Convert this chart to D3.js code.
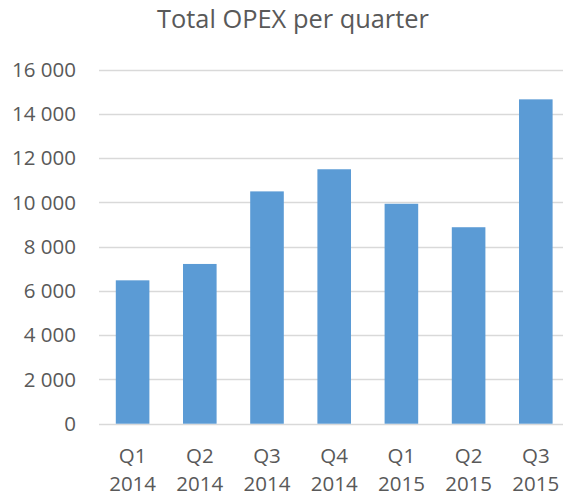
<!DOCTYPE html>
<html>
<head>
<meta charset="utf-8">
<script src="https://cdn.jsdelivr.net/npm/d3@7"></script>
<style>
  html, body { margin: 0; padding: 0; background: #fff; }
  svg { display: block; }
  text { font-family: "Open Sans", sans-serif; fill: #595959; }
</style>
</head>
<body>
<svg id="chart" width="563" height="492"></svg>
<script>
const quarters = ["Q1", "Q2", "Q3", "Q4", "Q1", "Q2", "Q3"];
const years = ["2014", "2014", "2014", "2014", "2015", "2015", "2015"];
const categories = quarters.map((q, i) => q + " " + years[i]);
const values = [6480, 7220, 10500, 11500, 9940, 8880, 14660];
const yTicks = [0, 2000, 4000, 6000, 8000, 10000, 12000, 14000, 16000];
const chartTitle = "Total OPEX per quarter";

const svg = d3.select("#chart");
const plotLeft = 99, plotRight = 569.4, plotTop = 69.7, plotBottom = 423.7;

const x = d3.scaleBand().domain(categories).range([plotLeft, plotRight])
  .paddingInner(0.5).paddingOuter(0.25);
const y = d3.scaleLinear().domain([0, 16000]).range([plotBottom, plotTop]);

const locale = d3.formatLocale({ decimal: ",", thousands: "\u00a0", grouping: [3], currency: ["", ""] });
const fmt = locale.format(",d");

// gridlines
svg.append("g")
  .selectAll("line").data(yTicks).join("line")
  .attr("x1", plotLeft).attr("x2", 563)
  .attr("y1", d => Math.round(y(d)) + 0.5).attr("y2", d => Math.round(y(d)) + 0.5)
  .attr("stroke", "#D9D9D9").attr("stroke-width", 1.3);

// y axis labels
const yAxis = d3.axisLeft(y).tickValues(yTicks).tickFormat(fmt).tickSize(0).tickPadding(0);
const gy = svg.append("g").attr("transform", "translate(76,0)").call(yAxis);
gy.select(".domain").remove();
gy.selectAll("text").attr("font-size", 20.5).attr("fill", "#595959")
  .attr("font-family", "Open Sans, sans-serif");

// bars
svg.append("g").selectAll("rect").data(values).join("rect")
  .attr("x", (d, i) => x(categories[i]))
  .attr("width", x.bandwidth())
  .attr("y", d => y(d))
  .attr("height", d => y(0) - y(d))
  .attr("fill", "#5B9BD5");

// x axis labels (two lines)
const xAxis = d3.axisBottom(x).tickSize(0).tickFormat(() => "");
const gx = svg.append("g").attr("transform", `translate(0,${plotBottom})`).call(xAxis);
gx.select(".domain").remove();
gx.selectAll(".tick").each(function(d, i) {
  const t = d3.select(this).append("text")
    .attr("text-anchor", "middle").attr("font-size", 20.5)
    .attr("fill", "#595959").attr("font-family", "Open Sans, sans-serif");
  t.append("tspan").attr("x", 0).attr("y", 39).text(quarters[i]);
  t.append("tspan").attr("x", 0).attr("y", 67).text(years[i]);
});

// title
svg.append("text").attr("x", 293).attr("y", 28)
  .attr("text-anchor", "middle").attr("font-size", 25.4)
  .text(chartTitle);
</script>
</body>
</html>
